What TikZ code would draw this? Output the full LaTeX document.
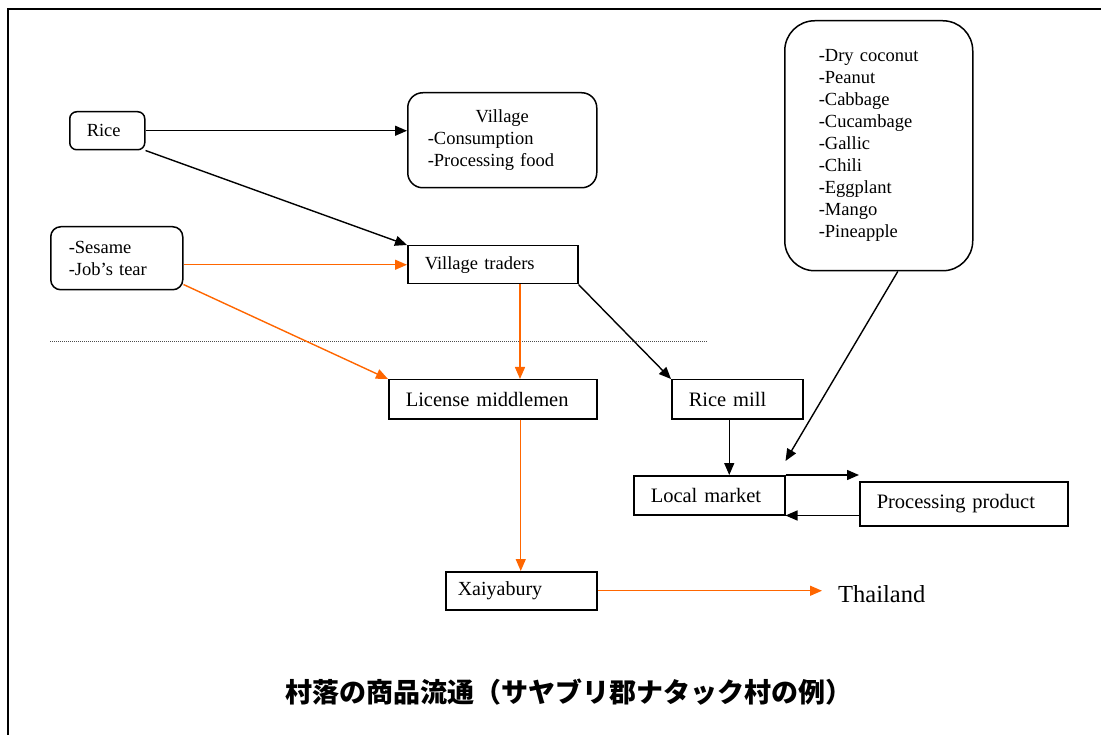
\documentclass[tikz,border=0pt]{standalone}
\usepackage{fontspec}
\setmainfont{Liberation Serif}
\newfontfamily\cjk{Noto Sans CJK JP}
\usetikzlibrary{arrows.meta,calc}
\definecolor{flow}{RGB}{255,102,0}
\tikzset{
  box/.style={draw, line width=1.5pt, anchor=north west, inner ysep=0pt,
              align=left, fill=white},
  sm/.style={font=\fontsize{18.5}{22}\selectfont},
  lg/.style={font=\fontsize{20.5}{24}\selectfont},
  arr/.style={line width=1.4pt, -{Triangle[length=12pt,width=10pt]}},
  org/.style={arr, draw=flow, color=flow},
}
\begin{document}
\begin{tikzpicture}[x=1pt,y=-1pt]
\useasboundingbox (0,0) rectangle (1101,735);
% outer frame
\draw[line width=1.6pt] (8,735) -- (8,9) -- (1101,9);

% boxes
\node[box, sm, rounded corners=7pt, inner xsep=17pt, text width=41pt, minimum height=38pt]
  (rice) at (69,111) {Rice};
\node[box, sm, rounded corners=15pt, inner xsep=20pt, text width=149pt, minimum height=95pt]
  (village) at (407,92) {\makebox[149pt]{Village}\\-Consumption\\-Processing food};
\node[box, sm, rounded corners=10pt, inner xsep=18pt, text width=96pt, minimum height=63pt]
  (sesame) at (50,226) {-Sesame\\-Job’s tear};
\node[box, sm, inner xsep=17pt, text width=136pt, minimum height=38pt]
  (traders) at (407,245) {Village traders};
\node[box, lg, inner xsep=17pt, text width=174pt, minimum height=39pt]
  (license) at (388,379) {License middlemen};
\node[box, lg, inner xsep=17pt, text width=97pt, minimum height=39pt]
  (mill) at (671,379) {Rice mill};
\node[box, sm, rounded corners=30pt, inner xsep=34pt, text width=120pt, minimum height=250pt]
  (veg) at (784,20) {-Dry coconut\\-Peanut\\-Cabbage\\-Cucambage\\-Gallic\\-Chili\\-Eggplant\\-Mango\\-Pineapple};
\node[box, lg, inner xsep=17pt, text width=117pt, minimum height=39pt]
  (market) at (633,475) {Local market};
\node[box, lg, inner xsep=17pt, text width=174pt, minimum height=44pt]
  (proc) at (859,481) {Processing product};
\node[box, font=\fontsize{20}{24}\selectfont, inner xsep=12pt, text width=127pt, minimum height=38pt]
  (xaiya) at (445,571) {Xaiyabury};
\node[anchor=west, inner xsep=16pt, inner ysep=2pt, font=\fontsize{24.5}{28}\selectfont]
  (thai) at (822,594) {Thailand};

% dotted separator
\draw[line width=0.8pt, dash pattern=on 1pt off 1pt, black!70] (50,341) -- (707,341);

% black flows
\draw[arr] (rice.east) -- (village.west |- rice.east);
\draw[arr] (rice.south east) -- (traders.north west);
\draw[arr] (traders.south east) -- (mill.north west);
\coordinate (mdown) at ($(mill.south)+(-8,0)$);
\draw[arr] (mdown) -- (mdown |- market.north);
\coordinate (vdown) at ($(veg.south)+(19,0)$);
\draw[arr] (vdown) -- ($(market.north east)+(0,-14)$);
\draw[arr] (market.north east) -- (proc.west |- market.north east);
\draw[arr] (proc.west |- market.south east) -- (market.south east);

% orange flows
\draw[org] (sesame.east |- traders.west) -- (traders.west);
\draw[org] ($(sesame.south east)+(0,-6)$) -- (license.north west);
\coordinate (tdown) at ($(traders.south west)+(113,0)$);
\draw[org] (tdown) -- (tdown |- license.north);
\coordinate (ldown) at ($(xaiya.north)+(-0.5,0)$);
\draw[org] (ldown |- license.south) -- (ldown);
\draw[org] (xaiya.east) -- (xaiya.east -| thai.west);

% caption
\node[font=\cjk\bfseries\fontsize{27}{32}\selectfont] (title) at (569,692)
  {村落の商品流通（サヤブリ郡ナタック村の例）};
\end{tikzpicture}
\end{document}
